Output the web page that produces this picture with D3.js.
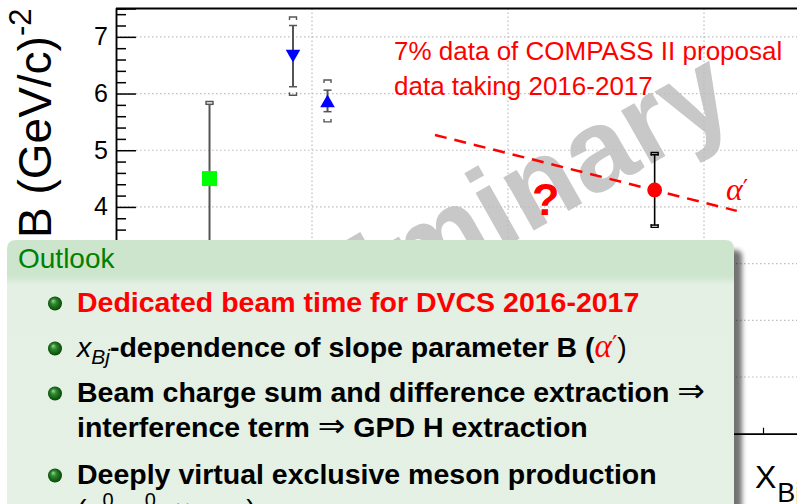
<!DOCTYPE html>
<html>
<head>
<meta charset="utf-8">
<script src="https://cdn.jsdelivr.net/npm/d3@7"></script>
<style>
  html, body { margin: 0; padding: 0; background: #fff; }
  svg { display: block; }
</style>
</head>
<body>
<svg id="chart" width="797" height="504"></svg>
<script>
// ---- data -------------------------------------------------------------
const xDecades = [1e-4, 1e-3, 1e-2, 1e-1, 1];
const yMajor = [0, 1, 2, 3, 4, 5, 6, 7];
const yLabels = ["0", "1", "2", "3", "4", "5", "6", "7"];

// B slope measurements: x_Bj, value, statistical and systematic errors
const pointX = [0.0003, 0.0008, 0.0012, 0.056];
const pointB = [4.50, 6.66, 5.87, 4.30];
const statErr = [1.31, 0.54, 0.19, 0.62];
const sysErr = [1.36, 0.69, 0.37, 0.66];

// expected alpha' slope through the COMPASS point
const slopeX = [0.00424, 0.147];
const slopeB = [5.27, 3.93];

const noteLines = ["7% data of COMPASS II proposal", "data taking 2016-2017"];
const outlookTitle = "Outlook";

// ---- styles -------------------------------------------------------------
const markerStyle = [
  { shape: "square", fill: "#00ff00", bar: "#555555" },
  { shape: "down", fill: "#0000ff", bar: "#555555" },
  { shape: "up", fill: "#0000ff", bar: "#555555" },
  { shape: "circle", fill: "#ff0000", bar: "#000000" }
];

const svg = d3.select("#chart");
const FONT = "'Liberation Sans', Arial, Helvetica, sans-serif";
const MATH = "'Liberation Serif', 'DejaVu Serif', serif";

const x = d3.scaleLog().domain([1e-4, 1]).range([116, 900]);
const y = d3.scaleLinear().domain([0, 7.5]).range([433.7, 8.5]);

const defs = svg.append("defs");

// ---- watermark ----------------------------------------------------------
svg.append("text")
  .attr("transform", "translate(190,425) rotate(-29.5)")
  .attr("font-family", FONT)
  .attr("font-weight", "bold")
  .attr("font-size", 116)
  .attr("fill", "#c8c8c8")
  .text("Preliminary");

// ---- grid -----------------------------------------------------------------
const grid = svg.append("g")
  .attr("stroke", "#bdbdbd")
  .attr("stroke-width", 1.2)
  .attr("stroke-dasharray", "1.5,2.5");
grid.selectAll("line.h").data(yMajor.filter(v => v > 0)).join("line")
  .attr("class", "h")
  .attr("x1", x(1e-4)).attr("x2", x(1))
  .attr("y1", d => y(d)).attr("y2", d => y(d));
grid.selectAll("line.v").data(xDecades.slice(1, 4)).join("line")
  .attr("class", "v")
  .attr("x1", d => x(d)).attr("x2", d => x(d))
  .attr("y1", y(7.5)).attr("y2", y(0));

// ---- axes -----------------------------------------------------------------
const yMinor = d3.range(0, 7.5001, 0.2).map(v => +v.toFixed(1)).filter(v => !yMajor.includes(v));
const yAxisMajor = d3.axisLeft(y).tickValues(yMajor).tickSize(-20).tickPadding(8)
  .tickFormat((d, i) => yLabels[i]);
const yAxisMinor = d3.axisLeft(y).tickValues(yMinor).tickSize(-10).tickFormat("");

const gy = svg.append("g").attr("transform", `translate(${x(1e-4)},0)`);
gy.call(yAxisMajor);
gy.append("g").call(yAxisMinor);
gy.selectAll(".domain").attr("stroke", "#000").attr("stroke-width", 1.5);
gy.selectAll(".tick line").attr("stroke", "#000").attr("stroke-width", 1.5);
gy.selectAll(".tick text").attr("font-family", FONT).attr("font-size", 25).attr("fill", "#000");

const xMinor = [];
for (let d = 1e-4; d < 1; d *= 10) for (let k = 2; k <= 9; k++) xMinor.push(d * k);
const gx = svg.append("g").attr("transform", `translate(0,${y(0)})`);
gx.call(d3.axisBottom(x).tickValues(xDecades).tickSize(-12).tickFormat(""));
gx.append("g").call(d3.axisBottom(x).tickValues(xMinor).tickSize(-6).tickFormat(""));
gx.selectAll(".domain").attr("stroke", "#000").attr("stroke-width", 1.5);
gx.selectAll(".tick line").attr("stroke", "#000").attr("stroke-width", 1.2);

// top frame
svg.append("line")
  .attr("x1", x(1e-4)).attr("x2", x(1))
  .attr("y1", y(7.5)).attr("y2", y(7.5))
  .attr("stroke", "#000").attr("stroke-width", 2);

// ---- alpha' line -----------------------------------------------------------
svg.append("path")
  .datum(slopeX.map((d, i) => [d, slopeB[i]]))
  .attr("d", d3.line().x(d => x(d[0])).y(d => y(d[1])))
  .attr("fill", "none")
  .attr("stroke", "#ff0000")
  .attr("stroke-width", 2.5)
  .attr("stroke-dasharray", "12,8");

// ---- error bars and markers --------------------------------------------------
const pts = svg.append("g");
pointX.forEach((px, i) => {
  const st = markerStyle[i];
  const cx = x(px);
  const v = pointB[i];
  const g = pts.append("g").attr("stroke", st.bar).attr("fill", "none");
  const yt = y(v + statErr[i]), yb = y(v - statErr[i]);
  g.append("line").attr("x1", cx).attr("x2", cx).attr("y1", yt).attr("y2", yb)
    .attr("stroke-width", st.shape === "circle" ? 1.6 : 2);
  [yt, yb].forEach(yy => g.append("line")
    .attr("x1", cx - 4).attr("x2", cx + 4).attr("y1", yy).attr("y2", yy)
    .attr("stroke-width", 1.5));
  const st2 = y(v + sysErr[i]), sb2 = y(v - sysErr[i]);
  g.append("path").attr("stroke-width", 1.4)
    .attr("d", `M${cx - 3.5},${st2 + 3}V${st2}H${cx + 3.5}V${st2 + 3}`);
  g.append("path").attr("stroke-width", 1.4)
    .attr("d", `M${cx - 3.5},${sb2 - 3}V${sb2}H${cx + 3.5}V${sb2 - 3}`);

  const cy = y(v);
  const m = pts.append("g").attr("fill", st.fill);
  if (st.shape === "square") {
    m.append("rect").attr("x", cx - 7.5).attr("y", cy - 7.5).attr("width", 15).attr("height", 15);
  } else if (st.shape === "down") {
    m.append("path").attr("d", `M${cx - 7.3},${cy - 6.3}H${cx + 7.3}L${cx},${cy + 6.3}Z`);
  } else if (st.shape === "up") {
    m.append("path").attr("d", `M${cx - 7.3},${cy + 6.3}H${cx + 7.3}L${cx},${cy - 6.3}Z`);
  } else {
    m.append("circle").attr("cx", cx).attr("cy", cy).attr("r", 7.4);
  }
});

// ---- annotations --------------------------------------------------------------
svg.append("g")
  .attr("font-family", FONT).attr("font-size", 26).attr("fill", "#ff0000")
  .selectAll("text").data(noteLines).join("text")
  .attr("x", 394).attr("y", (d, i) => 60 + i * 35)
  .text(d => d);

svg.append("text")
  .attr("x", 532).attr("y", 215)
  .attr("font-family", FONT).attr("font-weight", "bold").attr("font-size", 45)
  .attr("fill", "#ff0000").text("?");

const alphaLabel = svg.append("text")
  .attr("x", 726).attr("y", 200)
  .attr("font-family", MATH).attr("font-style", "italic").attr("font-size", 32)
  .attr("fill", "#ff0000");
alphaLabel.append("tspan").text("\u03B1");
alphaLabel.append("tspan").attr("font-family", "'DejaVu Sans', sans-serif")
  .attr("font-style", "normal").attr("font-size", 24).attr("dy", -3).text("\u2032");

// ---- axis titles -----------------------------------------------------------------
const yTitle = svg.append("text")
  .attr("transform", "translate(51,238) rotate(-90)")
  .attr("font-family", FONT).attr("font-size", 46).attr("fill", "#000");
yTitle.append("tspan").text("B (GeV/c)");
yTitle.append("tspan").attr("font-size", 31).attr("dy", -20).text("-2");

const xTitle = svg.append("text")
  .attr("x", 755).attr("y", 488)
  .attr("font-family", FONT).attr("font-size", 32).attr("fill", "#000");
xTitle.append("tspan").text("X");
xTitle.append("tspan").attr("font-size", 27).attr("dy", 14).attr("dx", 1).text("Bj");

// ---- Outlook block -----------------------------------------------------------------
const shadow = defs.append("filter").attr("id", "shadow")
  .attr("x", "-10%").attr("y", "-10%").attr("width", "120%").attr("height", "130%");
shadow.append("feGaussianBlur").attr("stdDeviation", 2.5);

const body = defs.append("linearGradient").attr("id", "blockFill")
  .attr("gradientUnits", "userSpaceOnUse")
  .attr("x1", 0).attr("x2", 0).attr("y1", 240).attr("y2", 540);
[["0", "#cde5cd"], ["0.12", "#cde5cd"], ["0.15", "#e4f0e4"], ["1", "#e5f1e5"]]
  .forEach(([o, c]) => body.append("stop").attr("offset", o).attr("stop-color", c));

const ball = defs.append("radialGradient").attr("id", "ball")
  .attr("cx", "50%").attr("cy", "50%").attr("r", "55%")
  .attr("fx", "35%").attr("fy", "30%");
[["0", "#9fd49f"], ["0.35", "#2f8a2f"], ["1", "#004000"]]
  .forEach(([o, c]) => ball.append("stop").attr("offset", o).attr("stop-color", c));

const bx0 = 7, bx1 = 734, by0 = 240, by1 = 560, r = 9;
svg.append("rect")
  .attr("x", bx0 + 7).attr("y", by0 + 10).attr("width", bx1 - bx0 + 1).attr("height", by1 - by0)
  .attr("rx", 6).attr("fill", "#000").attr("opacity", 0.55).attr("filter", "url(#shadow)");
svg.append("path")
  .attr("d", `M${bx0},${by1}V${by0 + r}Q${bx0},${by0} ${bx0 + r},${by0}H${bx1 - r}Q${bx1},${by0} ${bx1},${by0 + r}V${by1}Z`)
  .attr("fill", "url(#blockFill)");

svg.append("text")
  .attr("x", 18).attr("y", 268)
  .attr("font-family", FONT).attr("font-size", 28).attr("fill", "#008000")
  .text(outlookTitle);

const itemBaselines = [312, 357, 402, 484];
svg.append("g").selectAll("circle").data(itemBaselines).join("circle")
  .attr("cx", 55).attr("cy", d => d - 8.5).attr("r", 7)
  .attr("fill", "url(#ball)");

const tx = 77;
const mk = (yy) => svg.append("text").attr("x", tx).attr("y", yy)
  .attr("font-family", FONT).attr("font-size", 28.5).attr("font-weight", "bold").attr("fill", "#000");
const arrow = (t) => t.append("tspan").attr("font-weight", "normal")
  .attr("font-family", "'DejaVu Sans', sans-serif").attr("font-size", 33).text("\u21D2");

mk(312).attr("fill", "#ff0000").text("Dedicated beam time for DVCS 2016-2017");

const l2 = mk(357);
l2.append("tspan").attr("font-weight", "normal").attr("font-style", "italic").text("x");
l2.append("tspan").attr("font-weight", "normal").attr("font-style", "italic")
  .attr("font-size", 21).attr("dy", 7).text("Bj");
l2.append("tspan").attr("dy", -7).text("-dependence of slope parameter B (");
l2.append("tspan").attr("font-weight", "normal").attr("font-style", "italic")
  .attr("font-family", MATH).attr("font-size", 33).attr("fill", "#ff0000").text("\u03B1");
l2.append("tspan").attr("font-weight", "normal").attr("font-family", "'DejaVu Sans', sans-serif")
  .attr("font-size", 24).attr("dy", -4).attr("fill", "#ff0000").text("\u2032");
l2.append("tspan").attr("font-weight", "normal").attr("dy", 4).text(")");

const l3 = mk(402);
l3.append("tspan").text("Beam charge sum and difference extraction ");
arrow(l3);

const l4 = mk(437);
l4.append("tspan").text("interference term ");
arrow(l4);
l4.append("tspan").text(" GPD H extraction");

mk(484).text("Deeply virtual exclusive meson production");

const l6 = mk(519);
l6.append("tspan").attr("font-weight", "normal").text("(");
l6.append("tspan").attr("font-weight", "normal").attr("font-style", "italic").attr("font-family", MATH).attr("font-size", 32).text("\u03C0");
l6.append("tspan").attr("font-weight", "normal").attr("font-size", 20).attr("dy", -12).text("0");
l6.append("tspan").attr("font-weight", "normal").attr("dy", 12).text(", ");
l6.append("tspan").attr("font-weight", "normal").attr("font-style", "italic").attr("font-family", MATH).attr("font-size", 32).text("\u03C1");
l6.append("tspan").attr("font-weight", "normal").attr("font-size", 20).attr("dy", -12).text("0");
l6.append("tspan").attr("font-weight", "normal").attr("dy", 12).text(", \u03C9, \u2026 )");
</script>
</body>
</html>
